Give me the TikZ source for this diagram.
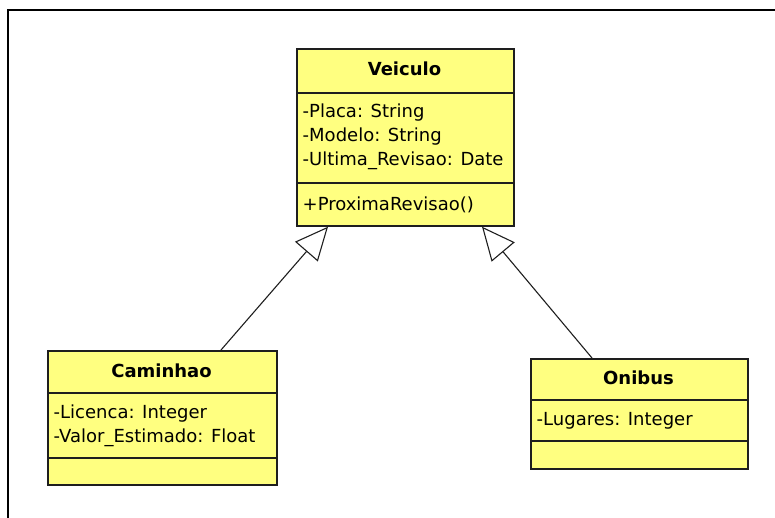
\documentclass[tikz,border=0pt]{standalone}
\usepackage{fontspec}
\setmainfont{DejaVu Sans}
\usetikzlibrary{arrows.meta}
\definecolor{umlyellow}{RGB}{255,255,128}
\definecolor{umlline}{RGB}{30,30,30}
\begin{document}
\begin{tikzpicture}[x=1pt,y=-1pt,
  comp/.style={draw=umlline, line width=1.7pt, fill=umlyellow, inner sep=0pt, anchor=north west},
  ttl/.style={anchor=base, inner sep=0pt, font=\fontsize{18}{21}\selectfont\bfseries},
  txt/.style={anchor=base west, inner sep=0pt, font=\fontsize{18}{21}\selectfont},
  gen/.style={-{Triangle[open, length=33pt, width=30pt]}, line width=1.1pt, draw=umlline},
  frameline/.style={draw=black}
]
\useasboundingbox (0,0) rectangle (775,518);
% frame
\draw[frameline, line width=2.2pt] (7,10) -- (775,10);
\draw[frameline, line width=1.3pt] (8,10) -- (8,518);

% Veiculo
\node[comp, minimum width=217pt, minimum height=44pt] (vt) at (296,48) {};
\node[comp, minimum width=217pt, minimum height=90pt] (va) at (296,92) {};
\node[comp, minimum width=217pt, minimum height=43pt] (vm) at (296,182) {};
\node[ttl] (vtt) at (404.5,76) {Veiculo};
\node[txt] (va1) at (302.5,118) {-Placa: String};
\node[txt] (va2) at (302.5,142) {-Modelo: String};
\node[txt] (va3) at (302.5,166) {-Ultima\_Revisao: Date};
\node[txt] (vm1) at (302.5,211) {+ProximaRevisao()};

% Caminhao
\node[comp, minimum width=229pt, minimum height=42pt] (ct) at (47,350) {};
\node[comp, minimum width=229pt, minimum height=65pt] (ca) at (47,392) {};
\node[comp, minimum width=229pt, minimum height=27pt] (cm) at (47,457) {};
\node[ttl] (ctt) at (161.5,377) {Caminhao};
\node[txt] (ca1) at (53.5,418) {-Licenca: Integer};
\node[txt] (ca2) at (53.5,442) {-Valor\_Estimado: Float};

% Onibus
\node[comp, minimum width=217pt, minimum height=41pt] (ot) at (530,358) {};
\node[comp, minimum width=217pt, minimum height=41pt] (oa) at (530,399) {};
\node[comp, minimum width=217pt, minimum height=28pt] (om) at (530,440) {};
\node[ttl] (ott) at (638.5,384) {Onibus};
\node[txt] (oa1) at (536.5,425) {-Lugares: Integer};

% generalizations
\draw[gen] ([xshift=174pt]ct.north west) -- ([xshift=32pt]vm.south west);
\draw[gen] ([xshift=62pt]ot.north west) -- ([xshift=186pt]vm.south west);
\end{tikzpicture}
\end{document}
